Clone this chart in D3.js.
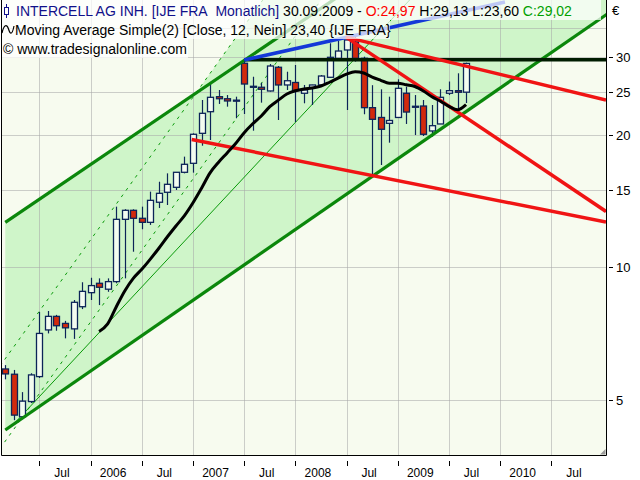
<!DOCTYPE html>
<html><head><meta charset="utf-8">
<script src="https://cdn.jsdelivr.net/npm/d3@7"></script>
<style>body{margin:0;background:#fff}svg{display:block}</style>
</head><body>
<svg id="c" width="640" height="480"></svg>
<script>
// ---------------- DATA ----------------
const months = ["2005-03","2005-04","2005-05","2005-06","2005-07","2005-08","2005-09","2005-10","2005-11","2005-12",
"2006-01","2006-02","2006-03","2006-04","2006-05","2006-06","2006-07","2006-08","2006-09","2006-10","2006-11","2006-12",
"2007-01","2007-02","2007-03","2007-04","2007-05","2007-06","2007-07","2007-08","2007-09","2007-10","2007-11","2007-12",
"2008-01","2008-02","2008-03","2008-04","2008-05","2008-06","2008-07","2008-08","2008-09","2008-10","2008-11","2008-12",
"2009-01","2009-02","2009-03","2009-04","2009-05","2009-06","2009-07","2009-08","2009-09"];
const open  = [5.88,5.72,4.58,4.96,5.65,7.21,7.74,7.46,7.25,8.14,8.76,9.20,8.92,9.28,12.85,13.47,12.92,12.65,14.05,14.80,15.19,16.43,17.22,20.14,22.55,24.39,24.13,23.95,29.04,25.75,25.62,25.13,28.44,25.93,26.27,24.83,25.59,25.93,26.99,29.81,31.13,32.46,29.81,23.03,21.88,21.22,21.88,24.83,23.20,23.23,20.39,21.15,24.83,25.17,24.97];
const high  = [6.00,5.85,5.21,5.75,7.92,7.96,7.80,7.56,8.43,9.25,9.47,9.44,9.44,13.73,13.55,13.54,13.73,14.85,15.64,16.34,16.43,17.83,20.14,23.97,26.16,25.26,24.60,24.39,29.54,27.07,26.24,28.93,28.63,27.79,28.78,25.93,25.95,27.32,32.24,32.63,33.49,33.84,30.06,25.90,25.35,24.39,26.71,25.70,24.60,23.97,23.35,25.35,26.40,27.56,29.13];
const low   = [5.57,4.50,4.52,4.92,5.61,7.08,7.18,6.90,6.88,8.04,8.43,8.21,8.80,9.20,9.44,10.85,12.20,12.48,13.63,13.85,14.98,16.34,16.40,18.88,19.45,23.48,23.15,21.79,22.28,20.42,23.64,25.05,21.59,25.26,21.37,23.56,23.35,25.80,26.90,29.81,22.75,29.30,22.25,16.20,17.07,19.18,21.88,21.15,19.96,19.86,19.79,21.15,24.60,22.95,23.60];
const close = [5.73,4.62,4.97,5.70,7.08,7.74,7.37,7.29,8.33,8.82,9.09,9.01,9.28,12.85,13.47,12.92,12.65,14.19,14.72,15.43,16.43,17.13,20.04,22.36,24.31,24.13,23.85,23.90,26.06,25.65,25.35,28.63,25.93,26.51,25.19,25.26,25.93,27.17,29.96,30.96,32.80,29.81,23.03,21.67,20.57,21.54,25.48,22.51,23.10,20.04,20.96,24.31,25.17,24.96,29.02];
// 12-month simple moving average of close, first value at months[11]
const maStart = 11;
const ma12 = [7.15,7.44,8.13,8.84,9.44,9.90,10.44,11.05,11.73,12.41,13.10,14.01,15.12,16.38,17.32,18.18,19.10,20.21,21.17,22.05,23.15,23.95,24.73,25.16,25.40,25.53,25.79,26.30,26.88,27.45,27.79,27.60,27.02,26.57,26.16,26.18,25.95,25.72,25.13,24.38,23.82,23.19,22.78,23.40];

const xTickIdx    = [4,10,16,22,28,34,40,46,52,58,64];
const xTickLabels = ["Jul","2006","Jul","2007","Jul","2008","Jul","2009","Jul","2010","Jul"];
const yTicks = [5,10,15,20,25,30];
const yGrid  = [5,10,15,20,25,30,35];

// drawing tools: [month index, price] anchor pairs
const upperChannel = [[0,12.65],[31.22,32.50]];
const lowerChannel = [[0,4.275],[56.8,24.6]];
const thinTrend    = [[1,4.41],[41.92,31.13]];
const dashUpper    = [[0.168,6.27],[25.55,30.33]];
const dashLower    = [[2.898,4.83],[33.37,32.22]];
const redLong      = [[21.85,19.50],[70.4,12.67]];
const redUpper     = [[39.93,33.3],[70.4,23.97]];
const redSteep     = [[39.93,33.3],[70.4,13.39]];
const blueLine     = [[28,29.54],[58.56,40.0]];
const resistance   = [[28,29.6],[70.4,29.6]];

// ---------------- CHART ----------------
const W=640,H=480;
const P={l:2,t:0,r:606,b:455};
const svg=d3.select("#c");
const x=d3.scaleLinear().domain([-0.383,70.4]).range([P.l,P.r]);
const y=d3.scaleLog().domain([3.751,40.42]).range([P.b,P.t]);

svg.append("rect").attr("width",W).attr("height",H).attr("fill","#ffffff");
svg.append("defs").append("clipPath").attr("id","clip")
  .append("rect").attr("x",P.l).attr("y",P.t).attr("width",P.r-P.l).attr("height",P.b-P.t);
const g=svg.append("g").attr("clip-path","url(#clip)");
g.append("rect").attr("x",P.l).attr("y",P.t).attr("width",P.r-P.l).attr("height",P.b-P.t).attr("fill","#f7fbef");

const px=p=>[x(p[0]),y(p[1])];
function at(a,b,xt){const t=(xt-a[0])/(b[0]-a[0]);return [xt,a[1]+t*(b[1]-a[1])];}
function seg(anchors){return [px(anchors[0]),px(anchors[1])];}
const farR=x(80), farL=P.l-30;

// fills (opaque union)
const fillCol="#cff5c9";
const U=seg(upperChannel), L=seg(lowerChannel);
const fillA=[U[0],at(U[0],U[1],farR),at(L[0],L[1],farR),L[0]];
g.append("path").attr("d","M"+fillA.join("L")+"Z").attr("fill",fillCol);
const D1=seg(dashUpper), D3=seg(dashLower);
const fillB=[at(D1[0],D1[1],x(0)),at(D1[0],D1[1],x(45)),at(D3[0],D3[1],x(45)),at(D3[0],D3[1],x(2))];
g.append("path").attr("d","M"+fillB.join("L")+"Z").attr("fill",fillCol);

// grid (drawn over the fills, semi-transparent gray)
g.selectAll("line.gy").data(yGrid).join("line").attr("class","gy")
  .attr("x1",P.l).attr("x2",P.r).attr("y1",d=>Math.round(y(d))+0.5).attr("y2",d=>Math.round(y(d))+0.5)
  .attr("stroke","#a8a8a8").attr("stroke-opacity",0.55).attr("stroke-width",1);
g.selectAll("line.gx").data(xTickIdx).join("line").attr("class","gx")
  .attr("y1",P.t).attr("y2",P.b).attr("x1",d=>Math.round(x(d))+0.5).attr("x2",d=>Math.round(x(d))+0.5)
  .attr("stroke","#a8a8a8").attr("stroke-opacity",0.55).attr("stroke-width",1);

// thin and dashed lines
const T=seg(thinTrend);
const tEnd=at(T[0],T[1],x(60));
g.append("line").attr("x1",T[0][0]).attr("y1",T[0][1]).attr("x2",tEnd[0]).attr("y2",tEnd[1])
  .attr("stroke","#0a9a0a").attr("stroke-width",1);
[D1,D3].forEach(D=>{
  const a=at(D[0],D[1],farL), b=at(D[0],D[1],x(45));
  g.append("line").attr("x1",a[0]).attr("y1",a[1]).attr("x2",b[0]).attr("y2",b[1])
    .attr("stroke","#0a9a0a").attr("stroke-width",1).attr("stroke-dasharray","3,5");
});

// candles
const navy="#0c2458";
const cg=g.append("g");
months.forEach((m,i)=>{
  const cx=Math.round(x(i))+0.5;
  cg.append("line").attr("x1",cx).attr("x2",cx).attr("y1",y(high[i])).attr("y2",y(low[i]))
    .attr("stroke",navy).attr("stroke-width",1.2);
  const top=y(Math.max(open[i],close[i])), bot=y(Math.min(open[i],close[i]));
  cg.append("rect").attr("x",cx-3).attr("width",6).attr("y",top).attr("height",Math.max(1,bot-top))
    .attr("fill",close[i]>=open[i]?"#f3fcf0":"#d22a0c").attr("stroke",navy).attr("stroke-width",1.3);
});

// thick trend lines
function thick(pts,color,w){g.append("line").attr("x1",pts[0][0]).attr("y1",pts[0][1]).attr("x2",pts[1][0]).attr("y2",pts[1][1])
  .attr("stroke",color).attr("stroke-width",w).attr("stroke-linecap","butt");}
thick([U[0],at(U[0],U[1],farR)],"#0b870b",3.2);
thick([L[0],at(L[0],L[1],farR)],"#0b870b",3.2);
thick(seg(resistance),"#001c00",3.5);
thick(seg(blueLine),"#1438d8",3.5);
thick(seg(redLong),"#f01414",3.5);
thick(seg(redUpper),"#f01414",3.5);
thick(seg(redSteep),"#f01414",3.5);

// moving average
g.append("path").datum(ma12).attr("fill","none").attr("stroke","#000").attr("stroke-width",3)
  .attr("stroke-linejoin","round")
  .attr("d",d3.line().x((d,k)=>x(k+maStart)).y(d=>y(d)).curve(d3.curveMonotoneX));

// legend boxes
const lg=svg.append("g");
[[0,0,601,20],[0,20,390,19],[0,39,188,19]].forEach(r=>{
  lg.append("rect").attr("x",r[0]).attr("y",r[1]).attr("width",r[2]).attr("height",r[3]).attr("fill","#ffffff").attr("fill-opacity",0.72);
});

// border
svg.append("path").attr("d",`M${P.l-0.5},0V${P.b+0.5}H${P.r+0.5}V0`).attr("fill","none").attr("stroke","#000").attr("stroke-width",1);
// resize grip
svg.append("path").attr("d",`M${P.r-6},${P.b-0.5}L${P.r-0.5},${P.b-6}V${P.b-0.5}Z`).attr("fill","#9a9a9a");

// y axis
const font="'Liberation Sans', Arial, sans-serif";
const ya=svg.append("g");
yTicks.forEach(v=>{
  const yy=Math.round(y(v))+0.5;
  ya.append("line").attr("x1",609).attr("x2",613).attr("y1",yy).attr("y2",yy).attr("stroke","#000");
  ya.append("text").attr("x",616).attr("y",yy).attr("dy","0.35em").attr("font-family",font).attr("font-size",13).text(v);
});
ya.append("text").attr("x",612).attr("y",15).attr("font-family",font).attr("font-size",13).text("€");

// x axis
const xa=svg.append("g");
xTickIdx.forEach((v,k)=>{
  const xx=Math.round(x(v))+0.5;
  xa.append("line").attr("x1",xx).attr("x2",xx).attr("y1",461).attr("y2",466).attr("stroke","#000");
  xa.append("text").attr("x",x(v)+22.5).attr("y",477).attr("text-anchor","middle").attr("font-family",font).attr("font-size",12).text(xTickLabels[k]);
});

// header texts
const t1=svg.append("text").attr("x",16).attr("y",16).attr("font-family",font).attr("font-size",14);
t1.append("tspan").attr("fill","#10108a").text("INTERCELL AG INH. [IJE FRA\u00a0\u00a0Monatlich] ");
t1.append("tspan").attr("fill","#000").text("30.09.2009 - ");
t1.append("tspan").attr("fill","#ff0000").text("O:24,97 ");
t1.append("tspan").attr("fill","#000").text("H:29,13 L:23,60 ");
t1.append("tspan").attr("fill","#00a000").text("C:29,02");
// candle icon
svg.append("line").attr("x1",6.5).attr("x2",6.5).attr("y1",4).attr("y2",18).attr("stroke","#10108a");
svg.append("rect").attr("x",4.5).attr("y",7.5).attr("width",4).attr("height",7).attr("fill","#fff").attr("stroke","#10108a");
// wave icon
svg.append("path").attr("d","M2,33 C4,24 7,24 8.5,29 S12,36 14,26").attr("fill","none").attr("stroke","#000").attr("stroke-width",1.2);
svg.append("text").attr("x",15).attr("y",35).attr("font-family",font).attr("font-size",14).attr("fill","#000")
  .text("Moving Average Simple(2) [Close, 12, Nein] 23,40 {IJE FRA}");
svg.append("text").attr("x",3).attr("y",54).attr("font-family",font).attr("font-size",14).attr("fill","#000")
  .text("© www.tradesignalonline.com");
</script>
</body></html>
